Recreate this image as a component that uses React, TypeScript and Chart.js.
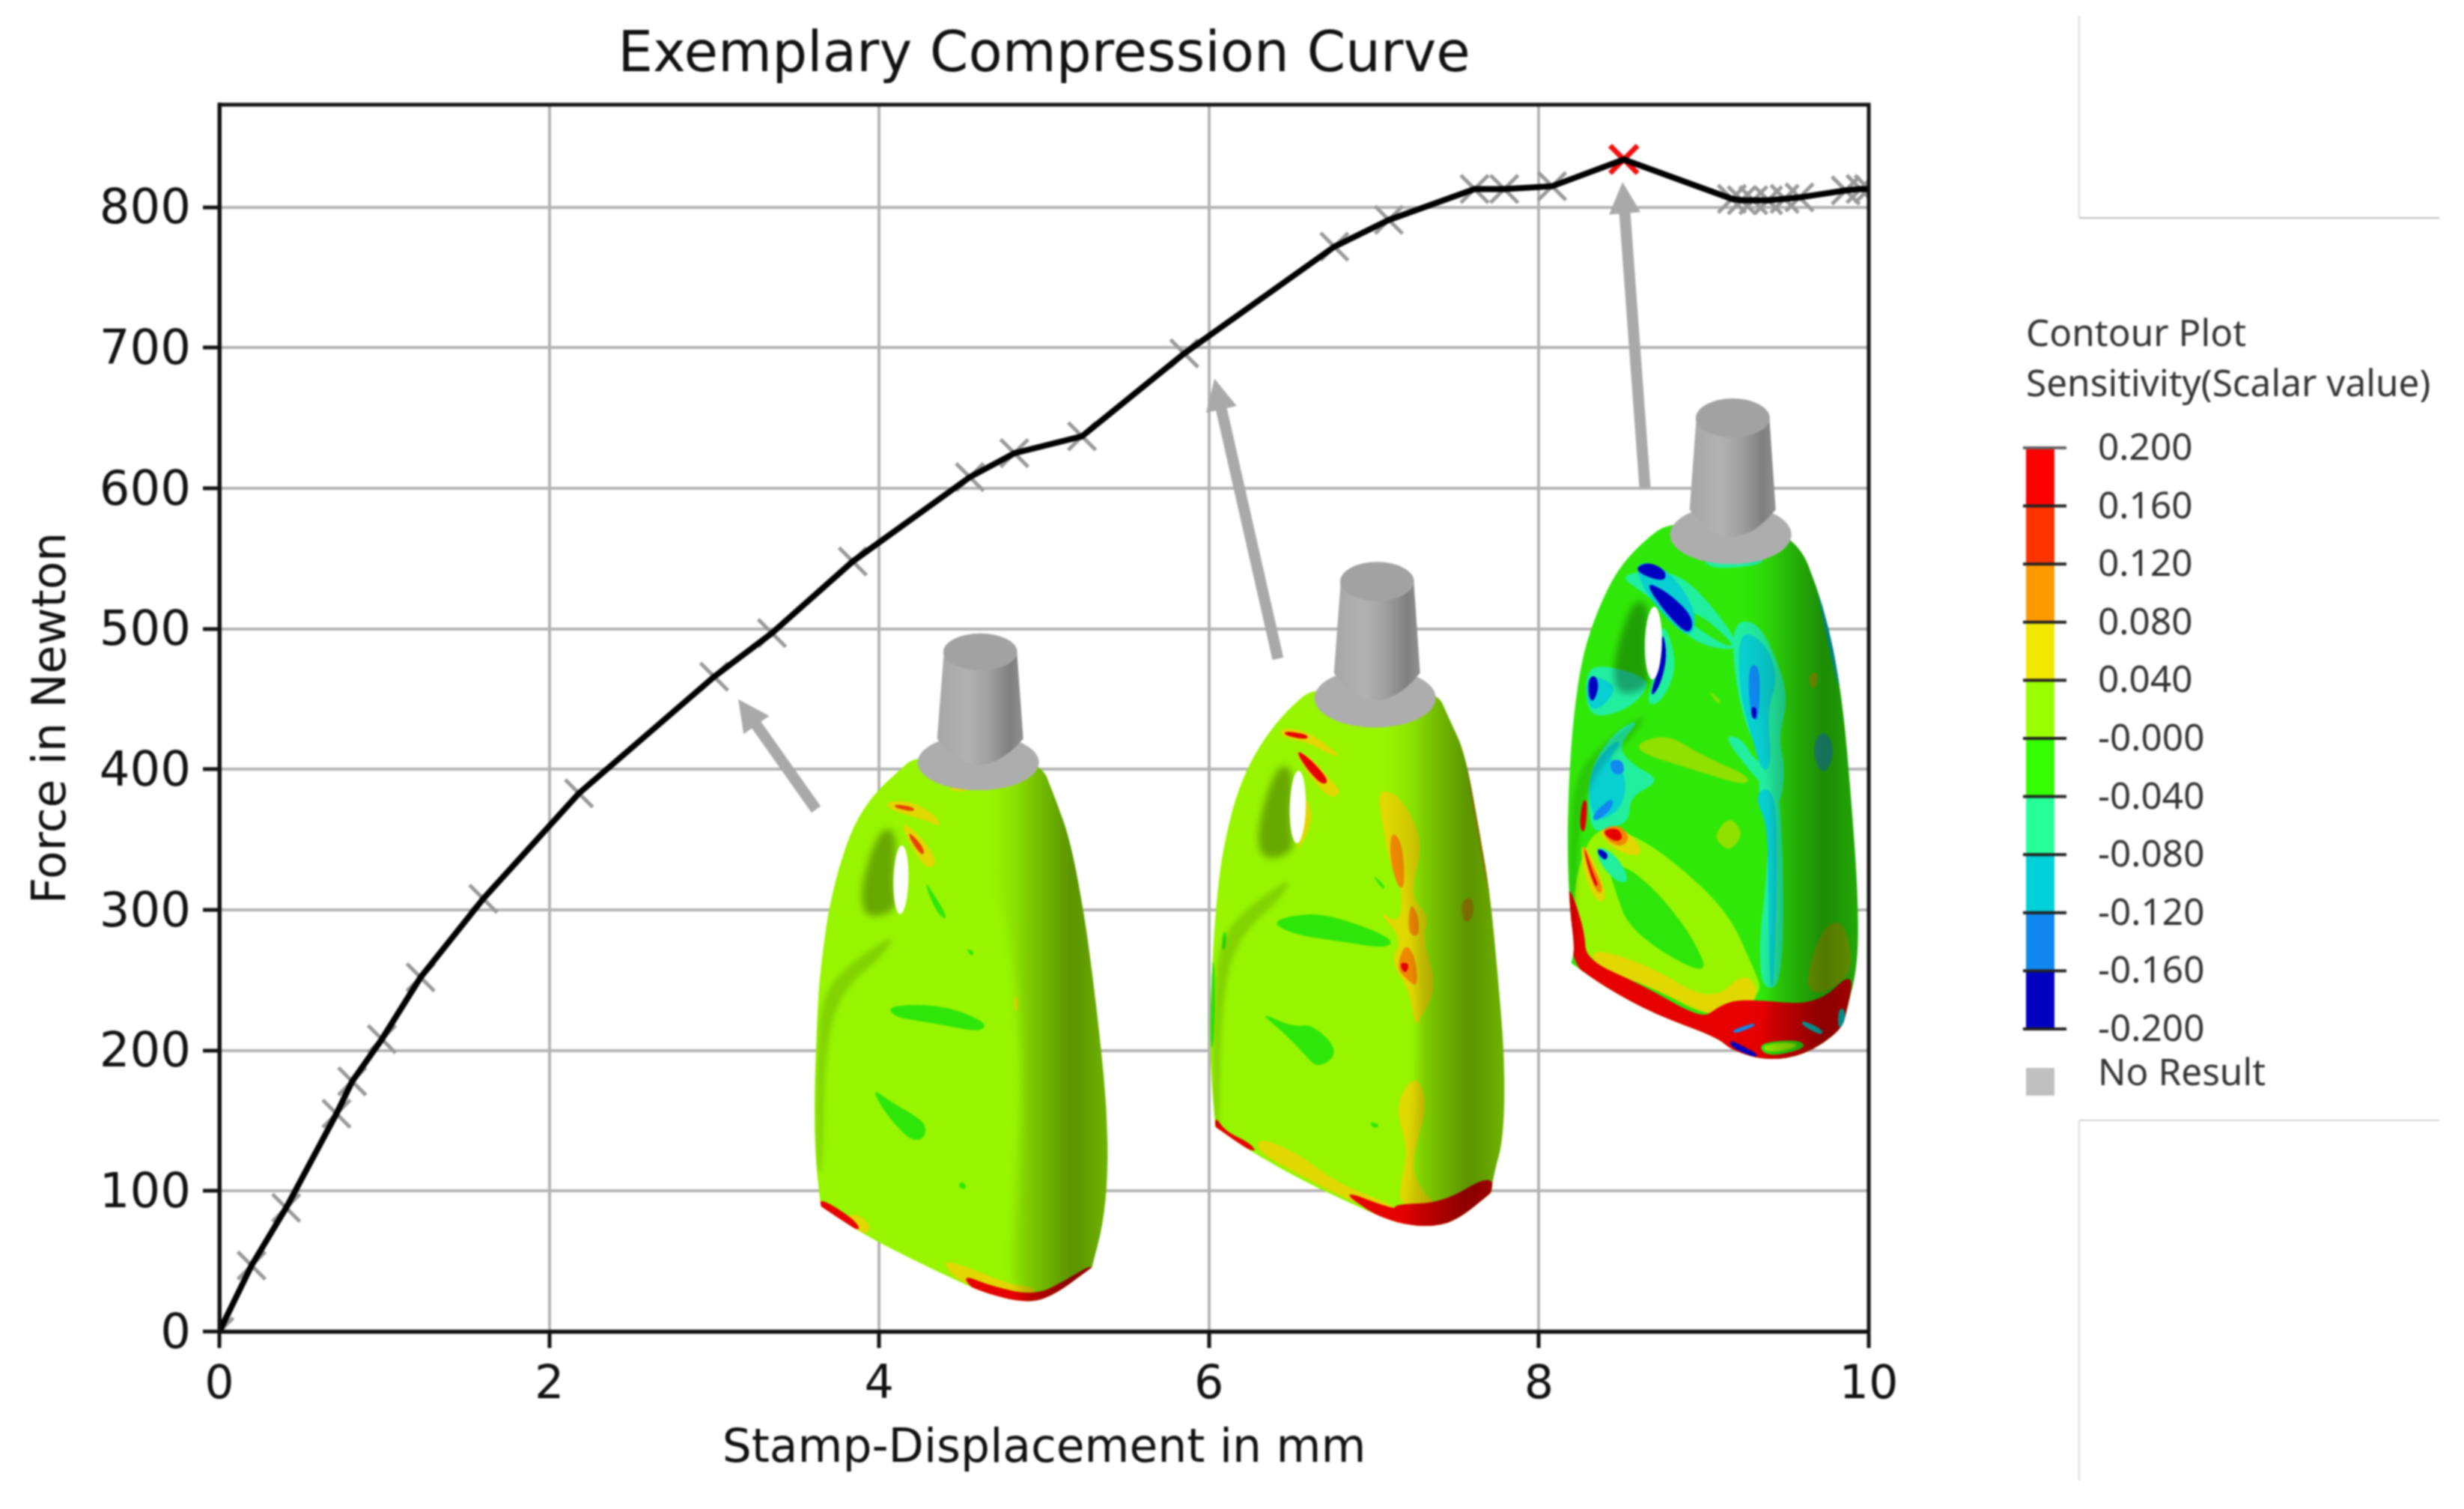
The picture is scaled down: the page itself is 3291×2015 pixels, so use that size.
import React, { useEffect, useRef } from "react";
import { Chart, registerables } from "chart.js";

Chart.register(...registerables);

type Pt = [number, number];

const displacement = [0, 0.195, 0.405, 0.71, 0.805, 0.985, 1.22, 1.6, 2.18, 3.0, 3.35, 3.84, 4.55, 4.82, 5.23, 5.85, 6.76, 7.09, 7.61, 7.79, 8.08, 8.515, 9.17, 9.23, 9.3, 9.39, 9.49, 9.58, 9.86, 9.95, 10];
const force = [0, 47, 88, 155, 178, 208, 252, 308, 383, 466, 497, 548, 608, 625, 637, 696, 772, 791, 813, 813, 815, 834, 806, 805, 805, 805, 806, 807, 812, 813, 813];
const peakIndex = 21;
const xTickStep = 2;
const yTickStep = 100;

const arrowsFrom: Pt[] = [[3.618, 371.5], [6.418, 478.7], [8.643, 600.7]];
const arrowsTo: Pt[] = [[3.146, 449.9], [6.033, 678], [8.507, 818]];

const legendValues = ["0.200", "0.160", "0.120", "0.080", "0.040", "-0.000", "-0.040", "-0.080", "-0.120", "-0.160", "-0.200"];
const legendColors = ["#ff0000", "#ff3300", "#ff9900", "#f0e800", "#99ff00", "#33ff00", "#26ff99", "#00d0d8", "#1188f0", "#0000c0"];

const L = "#97f500", G = "#2ee60a", Y = "#e0d800", O = "#f08800", R = "#e60000", RO = "#e84000";
const TG = "#22eea0", C = "#08cfd0", B = "#1088f0", D = "#0000c0";

const bottle1Outline: Pt[] = [[530, 325], [440, 370], [350, 420], [270, 490], [210, 590], [170, 690], [150, 770], [130, 870], [120, 1000], [112, 1150], [118, 1270], [135, 1360], [140, 1378], [140, 1378], [300, 1440], [500, 1500], [700, 1555], [800, 1580], [950, 1602], [1060, 1590], [1225, 1520], [1225, 1520], [1270, 1420], [1290, 1300], [1285, 1150], [1260, 1000], [1230, 850], [1195, 700], [1140, 530], [1080, 430], [1010, 330]];
const bottle1Layers: [string, Pt[]][] = [
  [G, [[405, 915], [500, 908], [620, 912], [720, 928], [808, 955], [770, 972], [650, 958], [520, 945], [440, 938]]],
  [G, [[345, 1103], [420, 1135], [520, 1168], [562, 1190], [552, 1222], [500, 1224], [440, 1190], [380, 1145]]],
  [G, [[552, 618], [590, 650], [645, 703], [630, 710], [590, 680]]],
  [G, [[725, 778], [752, 785], [747, 796], [730, 788]]],
  [G, [[690, 1325], [710, 1320], [724, 1336], [700, 1338]]],
  [Y, [[400, 438], [480, 432], [580, 458], [632, 497], [560, 480], [470, 465], [410, 452]]],
  [RO, [[430, 442], [510, 448], [515, 460], [440, 452]]],
  [Y, [[458, 483], [520, 505], [600, 565], [592, 590], [555, 588], [500, 540]]],
  [RO, [[488, 503], [555, 545], [548, 565], [500, 528]]],
  [Y, [[250, 1395], [300, 1400], [342, 1425], [320, 1445], [250, 1420]]],
  [R, [[130, 1355], [280, 1410], [300, 1440], [140, 1390]]],
  [Y, [[620, 1505], [690, 1510], [900, 1560], [1000, 1565], [1000, 1600], [700, 1560]]],
  [R, [[700, 1535], [830, 1565], [1000, 1585], [1120, 1550], [1230, 1510], [1230, 1540], [1060, 1610], [900, 1610], [760, 1580]]],
  [Y, [[912, 890], [928, 888], [930, 922], [914, 924]]],
  [Y, [[660, 402], [735, 404], [735, 412], [660, 412]]],
];

const bottle2Outline: Pt[] = [[530, 325], [440, 365], [350, 420], [270, 490], [210, 570], [170, 660], [145, 740], [125, 860], [112, 1000], [108, 1120], [118, 1220], [130, 1295], [130, 1295], [260, 1345], [450, 1405], [620, 1450], [780, 1490], [880, 1510], [1000, 1515], [1100, 1500], [1235, 1440], [1235, 1440], [1245, 1400], [1285, 1320], [1290, 1150], [1260, 950], [1230, 780], [1190, 650], [1130, 470], [1070, 400], [1010, 325]];
const bottle2Layers: [string, Pt[]][] = [
  [G, [[345, 843], [500, 822], [650, 838], [842, 880], [820, 902], [650, 888], [450, 872]]],
  [G, [[300, 1040], [440, 1075], [520, 1068], [630, 1130], [540, 1168], [480, 1130], [400, 1085]]],
  [G, [[755, 736], [812, 765], [800, 773]]],
  [G, [[745, 1283], [792, 1290], [765, 1300]]],
  [G, [[108, 930], [130, 930], [125, 1120], [108, 1120]]],
  [G, [[160, 865], [175, 865], [170, 905], [155, 905]]],
  [Y, [[780, 553], [850, 558], [920, 610], [958, 680], [920, 760], [930, 800], [985, 830], [960, 880], [1018, 985], [950, 1060], [930, 1072], [905, 990], [830, 930], [880, 880], [775, 815], [870, 850], [880, 770], [830, 720], [800, 630]]],
  [O, [[835, 640], [880, 670], [890, 768], [860, 768], [828, 700]]],
  [O, [[910, 798], [945, 830], [945, 878], [900, 868]]],
  [O, [[890, 888], [932, 920], [942, 988], [900, 972], [855, 945]]],
  [R, [[872, 932], [908, 935], [895, 957], [875, 948]]],
  ["#c8b000", [[1120, 795], [1160, 788], [1167, 830], [1130, 848], [1115, 820]]],
  [Y, [[935, 1175], [982, 1245], [930, 1340], [920, 1400], [980, 1450], [1040, 1472], [860, 1472], [880, 1400], [900, 1340], [848, 1245]]],
  [Y, [[300, 1318], [450, 1348], [620, 1420], [860, 1470], [840, 1495], [620, 1445], [450, 1395], [300, 1350]]],
  [R, [[128, 1270], [170, 1305], [270, 1330], [300, 1355], [130, 1310]]],
  [R, [[620, 1430], [850, 1478], [850, 1465], [1040, 1462], [1230, 1400], [1250, 1440], [1080, 1510], [950, 1525], [780, 1495]]],
  [Y, [[388, 415], [500, 422], [640, 480], [590, 475], [500, 447], [400, 438]]],
  [R, [[405, 422], [500, 430], [500, 442], [410, 433]]],
  [Y, [[440, 462], [510, 478], [600, 535], [635, 558], [590, 572], [520, 532]]],
  [R, [[450, 463], [510, 483], [588, 533], [555, 542], [490, 502]]],
  [Y, [[490, 560], [522, 610], [490, 660], [450, 692], [480, 640]]],
  ["#c8b800", [[1130, 465], [1160, 520], [1245, 800], [1225, 790], [1145, 540]]],
];

const bottle3Outline: Pt[] = [[520, 320], [400, 370], [300, 430], [220, 520], [160, 620], [125, 750], [105, 900], [100, 1050], [110, 1180], [130, 1265], [116, 1297], [116, 1297], [250, 1350], [450, 1410], [700, 1460], [760, 1490], [900, 1512], [1050, 1500], [1200, 1445], [1220, 1400], [1265, 1300], [1265, 1150], [1240, 950], [1200, 700], [1130, 510], [1000, 330]];
const bottle3Layers: [string, Pt[]][] = [
  [L, [[200, 1000], [330, 1005], [500, 1060], [740, 1180], [840, 1300], [890, 1370], [700, 1400], [450, 1340], [200, 1290], [130, 1260], [125, 1120]]],
  [G, [[260, 1080], [340, 1085], [440, 1130], [520, 1180], [600, 1240], [672, 1325], [480, 1275], [340, 1210], [300, 1150]]],
  ["#90e000", [[340, 825], [490, 788], [640, 840], [832, 885], [815, 907], [600, 870]]],
  ["#90e000", [[695, 1010], [750, 973], [807, 1010], [755, 1052], [700, 1030]]],
  ["#90e000", [[660, 693], [717, 720], [705, 728]]],
  [TG, [[720, 795], [800, 800], [860, 860], [960, 860], [960, 940], [870, 900]]],
  [TG, [[750, 550], [860, 540], [950, 640], [985, 720], [945, 800], [975, 870], [950, 960], [860, 940], [880, 850], [790, 740]]],
  [C, [[785, 560], [895, 590], [945, 670], [900, 740], [920, 860], [880, 880], [830, 780], [790, 700]]],
  [TG, [[920, 900], [960, 940], [970, 1340], [880, 1360], [868, 1250], [895, 1130]]],
  [C, [[850, 930], [905, 905], [945, 960], [930, 1350], [910, 1350], [905, 1100], [900, 990]]],
  [B, [[825, 640], [870, 640], [872, 720], [862, 770], [830, 740]]],
  [D, [[835, 733], [860, 733], [857, 760], [840, 757]]],
  [TG, [[300, 440], [500, 430], [620, 470], [790, 590], [760, 610], [600, 590], [500, 520], [400, 480]]],
  [G, [[520, 510], [640, 530], [770, 595], [740, 600], [620, 560]]],
  [C, [[370, 410], [500, 425], [620, 520], [600, 585], [500, 540], [400, 470]]],
  [D, [[372, 425], [430, 413], [497, 433], [490, 457], [400, 442]]],
  [D, [[405, 455], [500, 478], [608, 535], [590, 577], [500, 530]]],
  [TG, [[480, 530], [545, 640], [480, 722], [415, 730], [450, 660]]],
  [D, [[480, 560], [502, 620], [470, 690], [428, 714], [470, 640]]],
  [TG, [[170, 650], [260, 640], [430, 670], [400, 712], [300, 748], [180, 755]]],
  [C, [[175, 660], [290, 680], [280, 710], [220, 740], [180, 730]]],
  [D, [[185, 668], [215, 663], [227, 690], [205, 722], [185, 712]]],
  [TG, [[180, 880], [280, 790], [400, 755], [300, 820], [360, 860], [480, 895], [350, 930], [350, 985], [270, 1000], [190, 1010]]],
  [C, [[180, 880], [280, 810], [320, 810], [260, 850], [340, 880], [320, 960], [200, 990]]],
  [B, [[200, 970], [280, 930], [285, 955], [210, 988]]],
  [B, [[268, 850], [320, 848], [332, 880], [282, 882]]],
  [Y, [[230, 998], [340, 1003], [412, 1055], [340, 1062], [240, 1025]]],
  [O, [[235, 1000], [310, 992], [352, 1020], [320, 1042], [260, 1028]]],
  [R, [[242, 1005], [300, 998], [325, 1020], [300, 1030], [262, 1020]]],
  [TG, [[215, 1035], [300, 1060], [352, 1118], [300, 1120], [225, 1075]]],
  [D, [[220, 1043], [265, 1055], [256, 1072], [226, 1060]]],
  [Y, [[150, 1030], [200, 1060], [262, 1150], [225, 1168], [170, 1110]]],
  [O, [[157, 1025], [205, 1085], [247, 1135], [222, 1147], [180, 1090]]],
  [R, [[165, 1035], [200, 1095], [225, 1125], [212, 1130], [180, 1080]]],
  [R, [[160, 938], [182, 938], [172, 1012], [148, 1000]]],
  [Y, [[190, 1262], [420, 1300], [680, 1385], [820, 1310], [880, 1380], [700, 1425], [420, 1345], [215, 1310]]],
  [R, [[100, 1130], [125, 1150], [170, 1230], [175, 1290], [400, 1345], [640, 1420], [700, 1395], [760, 1380], [860, 1378], [1100, 1390], [1250, 1310], [1222, 1405], [1210, 1445], [1050, 1505], [900, 1515], [760, 1490], [700, 1465], [450, 1415], [250, 1355], [112, 1300]]],
  [G, [[860, 1473], [1030, 1465], [1060, 1485], [900, 1505]]],
  [L, [[880, 1478], [1000, 1470], [1030, 1483], [900, 1495]]],
  [D, [[752, 1465], [830, 1488], [862, 1498], [855, 1506], [755, 1482]]],
  [B, [[760, 1445], [850, 1428], [852, 1436], [770, 1453]]],
  [C, [[1040, 1422], [1125, 1443], [1120, 1458], [1040, 1434]]],
  [C, [[1185, 1400], [1210, 1395], [1215, 1430], [1185, 1445]]],
  ["#88c800", [[1050, 1340], [1120, 1220], [1200, 1200], [1240, 1270], [1230, 1330], [1100, 1370]]],
  ["#25b890", [[1080, 830], [1110, 785], [1160, 800], [1167, 850], [1120, 885]]],
  ["#a0c000", [[1060, 665], [1110, 652], [1090, 702]]],
  [C, [[1095, 455], [1135, 505], [1200, 695], [1180, 680], [1120, 530]]],
  [TG, [[650, 395], [870, 395], [895, 420], [660, 430]]],
  [B, [[620, 390], [740, 400], [740, 408], [630, 398]]],
];

const rightShade: Pt[] = [[640, 470], [780, 560], [880, 700], [930, 900], [945, 1100], [930, 1300], [880, 1640], [1400, 1640], [1400, 280], [1000, 280]];
const handleShade: Pt[] = [[390, 495], [445, 510], [430, 620], [450, 690], [320, 710], [295, 650], [340, 550]];
const creaseShade: Pt[] = [[445, 740], [380, 800], [250, 860], [175, 950], [150, 1100], [145, 1300], [120, 1300], [125, 1000], [150, 880], [260, 810]];

const bottles = [
  { ox: 1050, oy: 820, sx: 3, sy: 1.742, dx: 0, dy: 0, base: L, outline: bottle1Outline, layers: bottle1Layers, hole: [460, 618, 30, 80] },
  { ox: 1580, oy: 720, sx: 3, sy: 1.65, dx: 0, dy: 5, base: L, outline: bottle2Outline, layers: bottle2Layers, hole: [460, 590, 32, 80] },
  { ox: 2060, oy: 500, sx: 3, sy: 1.65, dx: -15, dy: 8, base: "#30e808", outline: bottle3Outline, layers: bottle3Layers, hole: [445, 592, 34, 80] },
];

function blob(ctx: CanvasRenderingContext2D, pts: Pt[]) {
  ctx.beginPath();
  const n = pts.length;
  const mid = (a: Pt, b: Pt): Pt => [(a[0] + b[0]) / 2, (a[1] + b[1]) / 2];
  const s = mid(pts[n - 1], pts[0]);
  ctx.moveTo(s[0], s[1]);
  for (let i = 0; i < n; i++) {
    const m = mid(pts[i], pts[(i + 1) % n]);
    ctx.quadraticCurveTo(pts[i][0], pts[i][1], m[0], m[1]);
  }
  ctx.closePath();
}

function drawBottle(ctx: CanvasRenderingContext2D, b: (typeof bottles)[number]) {
  ctx.save();
  ctx.translate(b.ox, b.oy);
  ctx.scale(1 / b.sx, 1 / b.sy);

  ctx.save();
  blob(ctx, b.outline);
  ctx.fillStyle = b.base;
  ctx.fill();
  ctx.clip();
  for (const [color, pts] of b.layers) {
    blob(ctx, pts);
    ctx.fillStyle = color;
    ctx.fill();
  }
  ctx.globalCompositeOperation = "multiply";
  ctx.translate(b.dx, 0);
  ctx.filter = "blur(6px)";
  const g = ctx.createLinearGradient(820, 0, 1290, 0);
  g.addColorStop(0, "#ffffff");
  g.addColorStop(0.2, "#ececec");
  g.addColorStop(0.4, "#c6c6c6");
  g.addColorStop(0.7, "#989898");
  g.addColorStop(1, "#bcbcbc");
  blob(ctx, rightShade);
  ctx.fillStyle = g;
  ctx.fill();
  ctx.filter = "blur(5px)";
  blob(ctx, handleShade);
  ctx.fillStyle = "#b0b0b0";
  ctx.fill();
  ctx.filter = "blur(3px)";
  blob(ctx, creaseShade);
  ctx.fillStyle = "#dcdcdc";
  ctx.fill();
  ctx.restore();

  // handle opening
  ctx.beginPath();
  ctx.ellipse(b.hole[0], b.hole[1], b.hole[2], b.hole[3], 0.05, 0, Math.PI * 2);
  ctx.fillStyle = "#ffffff";
  ctx.fill();

  // neck and flange
  ctx.translate(b.dx, b.dy);
  ctx.beginPath();
  ctx.ellipse(770, 345, 243, 65, 0, 0, Math.PI * 2);
  ctx.fillStyle = "#adadad";
  ctx.fill();
  const n = ctx.createLinearGradient(605, 0, 950, 0);
  n.addColorStop(0, "#a6a6a6");
  n.addColorStop(0.35, "#b2b2b2");
  n.addColorStop(0.6, "#a0a0a0");
  n.addColorStop(0.85, "#7f7f7f");
  n.addColorStop(1, "#909090");
  ctx.beginPath();
  ctx.moveTo(632, 90);
  ctx.lineTo(605, 290);
  ctx.quadraticCurveTo(770, 410, 950, 290);
  ctx.lineTo(925, 90);
  ctx.closePath();
  ctx.fillStyle = n;
  ctx.fill();
  ctx.beginPath();
  ctx.ellipse(778, 88, 148, 43, 0, 0, Math.PI * 2);
  ctx.fillStyle = "#a2a2a2";
  ctx.fill();
  ctx.restore();
}

const annotations = {
  id: "annotations",
  afterDraw(chart: any) {
    const { ctx, chartArea: a, scales } = chart;
    ctx.save();
    // frame
    ctx.strokeStyle = "#111111";
    ctx.lineWidth = 5;
    ctx.strokeRect(a.left, a.top, a.right - a.left, a.bottom - a.top);

    // arrows
    ctx.fillStyle = "#a9a9a9";
    arrowsFrom.forEach((from, i) => {
      const x0 = scales.x.getPixelForValue(from[0]);
      const y0 = scales.y.getPixelForValue(from[1]);
      const x1 = scales.x.getPixelForValue(arrowsTo[i][0]);
      const y1 = scales.y.getPixelForValue(arrowsTo[i][1]);
      const len = Math.hypot(x1 - x0, y1 - y0);
      const ux = (x1 - x0) / len;
      const uy = (y1 - y0) / len;
      const hx = x1 - ux * 42;
      const hy = y1 - uy * 42;
      const w = 7.5;
      const h = 21;
      ctx.beginPath();
      ctx.moveTo(x0 - uy * w, y0 + ux * w);
      ctx.lineTo(hx - uy * w, hy + ux * w);
      ctx.lineTo(hx - uy * h, hy + ux * h);
      ctx.lineTo(x1, y1);
      ctx.lineTo(hx + uy * h, hy - ux * h);
      ctx.lineTo(hx + uy * w, hy - ux * w);
      ctx.lineTo(x0 + uy * w, y0 - ux * w);
      ctx.closePath();
      ctx.fill();
    });

    bottles.forEach((b) => drawBottle(ctx, b));

    // thin boxes at the right
    ctx.lineWidth = 2;
    ctx.strokeStyle = "#dcdcdc";
    ctx.beginPath();
    ctx.moveTo(2777, 21);
    ctx.lineTo(2777, 291);
    ctx.moveTo(2777, 1496);
    ctx.lineTo(2777, 1977);
    ctx.stroke();
    ctx.strokeStyle = "#bdbdbd";
    ctx.beginPath();
    ctx.moveTo(2777, 291);
    ctx.lineTo(3258, 291);
    ctx.stroke();
    ctx.strokeStyle = "#d0d0d0";
    ctx.beginPath();
    ctx.moveTo(2777, 1496);
    ctx.lineTo(3258, 1496);
    ctx.stroke();

    // contour legend
    const top = 598;
    const step = 77.6;
    ctx.fillStyle = "#333333";
    ctx.textBaseline = "middle";
    ctx.textAlign = "left";
    ctx.font = '49.5px "Noto Sans"';
    ctx.fillText("Contour Plot", 2706, 448);
    ctx.fillText("Sensitivity(Scalar value)", 2706, 515);
    legendColors.forEach((c, i) => {
      ctx.fillStyle = c;
      ctx.fillRect(2706, top + i * step, 38, step + 1);
    });
    legendValues.forEach((v, i) => {
      const y = top + i * step;
      ctx.fillStyle = i === 0 ? "#666666" : "#222222";
      ctx.fillRect(2702, y - 2, 58, 4);
      ctx.fillStyle = "#333333";
      ctx.fillText(v, 2802, y + 2);
    });
    ctx.fillStyle = "#c0c0c0";
    ctx.fillRect(2706, 1426, 38, 37);
    ctx.fillStyle = "#333333";
    ctx.fillText("No Result", 2802, 1435);
    ctx.restore();
  },
};

export default function App() {
  const ref = useRef<HTMLCanvasElement>(null);
  useEffect(() => {
    document.body.style.margin = "0";
    const points = displacement.map((x, i) => ({ x, y: force[i] }));
    const chart = new Chart(ref.current!, {
      type: "line",
      data: {
        datasets: [
          {
            label: "Force",
            data: points,
            borderColor: "#000000",
            borderWidth: 8,
            pointRadius: 0,
            tension: 0,
            order: 1,
          },
          {
            label: "Steps",
            data: points,
            showLine: false,
            pointStyle: "crossRot",
            pointRadius: 26,
            pointBorderWidth: (c: any) => (c.dataIndex === peakIndex ? 7 : 5),
            pointBorderColor: (c: any) => (c.dataIndex === peakIndex ? "#f01010" : "#999999"),
            order: 2,
          },
        ],
      },
      options: {
        animation: false,
        responsive: false,
        devicePixelRatio: 1,
        layout: { padding: { left: 0, right: 795, top: 0, bottom: 0 } },
        plugins: {
          legend: { display: false },
          tooltip: { enabled: false },
          title: {
            display: true,
            text: "Exemplary Compression Curve",
            fullSize: false,
            color: "#111111",
            font: { family: "DejaVu Sans", size: 74, weight: "normal" },
            padding: { top: 31, bottom: 20 },
          },
        },
        scales: {
          x: {
            type: "linear",
            min: 0,
            max: 10,
            ticks: { stepSize: xTickStep, color: "#111111", font: { family: "DejaVu Sans", size: 62 }, padding: 14, maxRotation: 0 },
            grid: { color: "#b4b4b4", lineWidth: 4, tickColor: "#111111", tickWidth: 5, tickLength: 22 },
            border: { color: "#111111", width: 5 },
            title: { display: true, text: "Stamp-Displacement in mm", color: "#111111", font: { family: "DejaVu Sans", size: 61.5 }, padding: { top: 0, bottom: 42 } },
            afterFit(s: any) { s.height = 2015 - 1778; },
          },
          y: {
            type: "linear",
            min: 0,
            max: 873,
            ticks: { stepSize: yTickStep, color: "#111111", font: { family: "DejaVu Sans", size: 64 }, padding: 16, includeBounds: false, labelOffset: 5 },
            grid: { color: "#b4b4b4", lineWidth: 4, tickColor: "#111111", tickWidth: 5, tickLength: 22 },
            border: { color: "#111111", width: 5 },
            title: { display: true, text: "Force in Newton", color: "#111111", font: { family: "DejaVu Sans", size: 61.5 }, padding: { top: 34, bottom: 0 } },
            afterFit(s: any) { s.width = 293; },
          },
        },
      },
      plugins: [annotations],
    } as any);
    return () => chart.destroy();
  }, []);
  return (
    <canvas
      ref={ref}
      width={3291}
      height={2015}
      style={{ display: "block", position: "absolute", left: 0, top: 0, filter: "blur(0.9px)" }}
    />
  );
}
